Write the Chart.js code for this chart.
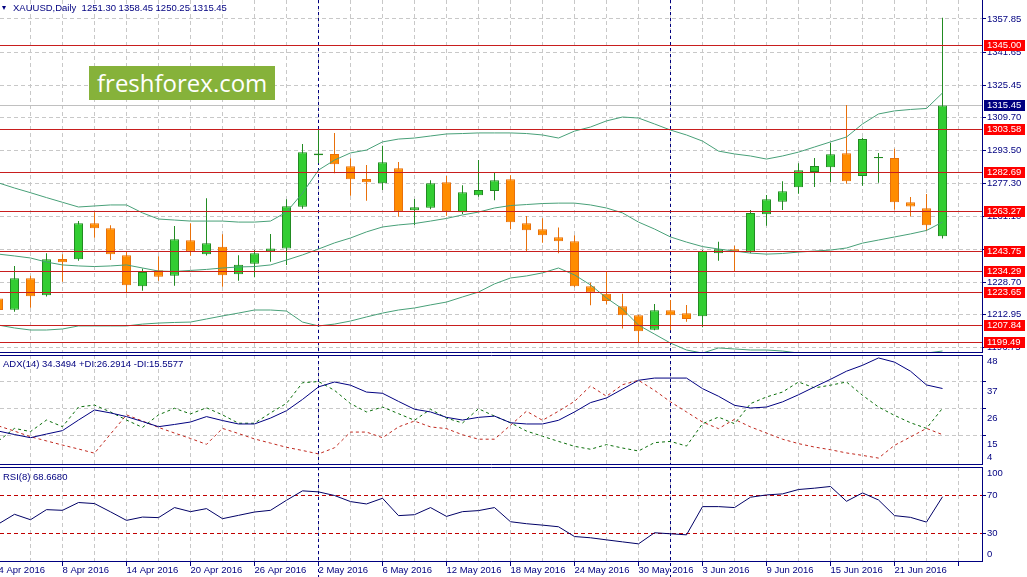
<!DOCTYPE html>
<html>
<head>
<meta charset="utf-8">
<title>XAUUSD, Daily</title>
<script src="https://cdn.jsdelivr.net/npm/chart.js@4.4.0/dist/chart.umd.min.js"></script>
<style>
  html, body { margin: 0; padding: 0; background: #fff; overflow: hidden; }
  #wrap { position: relative; width: 1027px; height: 577px; }
  canvas { position: absolute; left: 0; }
  .mt { position: absolute; font: 9.5px "Liberation Sans", Arial, sans-serif; color: #000080; white-space: pre; line-height: 1; }
  .tri { position: absolute; left: 2px; top: 6px; width: 0; height: 0;
         border-left: 2.5px solid transparent; border-right: 2.5px solid transparent; border-top: 4px solid #000080; }
  #logo { position: absolute; left: 89px; top: 66px; width: 186px; height: 34px; background: #86b23a;
          color: #fff; font: 24px "Open Sans", sans-serif; line-height: 34px; padding-left: 8px; box-sizing: border-box; }
</style>
</head>
<body>
<div id="wrap">
  <canvas id="priceChart" width="1027" height="353" style="top:0px"></canvas>
  <canvas id="adxChart" width="1027" height="110" style="top:355px"></canvas>
  <canvas id="rsiChart" width="1027" height="111" style="top:467px"></canvas>
  <div class="tri"></div>
  <div class="mt" style="left:13px;top:3px">XAUUSD,Daily  1251.30 1358.45 1250.25 1315.45</div>
  <div class="mt" style="left:3px;top:359px">ADX(14) 34.3494 +DI:26.2914 -DI:15.5577</div>
  <div class="mt" style="left:3px;top:472px">RSI(8) 68.6680</div>
  <div id="logo">freshforex.com</div>
</div>
<script>
// daily bars, 4 Apr - 24 Jun 2016
const dates = [
  '4 Apr', '5 Apr', '6 Apr', '7 Apr', '8 Apr', '11 Apr', '12 Apr', '13 Apr', '14 Apr', '15 Apr',
  '18 Apr', '19 Apr', '20 Apr', '21 Apr', '22 Apr', '25 Apr', '26 Apr', '27 Apr', '28 Apr', '29 Apr',
  '2 May', '3 May', '4 May', '5 May', '6 May', '9 May', '10 May', '11 May', '12 May', '13 May',
  '16 May', '17 May', '18 May', '19 May', '20 May', '23 May', '24 May', '25 May', '26 May', '27 May',
  '30 May', '31 May', '1 Jun', '2 Jun', '3 Jun', '6 Jun', '7 Jun', '8 Jun', '9 Jun', '10 Jun',
  '13 Jun', '14 Jun', '15 Jun', '16 Jun', '17 Jun', '20 Jun', '21 Jun', '22 Jun', '23 Jun', '24 Jun'
];

const openPrices = [
  1220.90, 1215.35, 1230.75, 1222.40, 1240.20, 1240.05, 1257.70, 1255.25, 1242.00, 1226.80,
  1234.70, 1232.00, 1249.35, 1242.50, 1246.20, 1232.70, 1237.90, 1244.00, 1245.40, 1265.85,
  1291.00, 1291.70, 1285.65, 1279.40, 1277.30, 1284.65, 1264.10, 1265.35, 1277.80, 1263.10,
  1271.40, 1273.50, 1279.30, 1257.70, 1254.75, 1250.85, 1248.90, 1226.80, 1223.20, 1217.00,
  1212.60, 1205.55, 1215.05, 1213.60, 1212.20, 1243.00, 1244.95, 1243.80, 1262.10, 1268.30,
  1275.35, 1282.85, 1285.15, 1292.00, 1280.90, 1289.60, 1289.70, 1268.00, 1265.05, 1251.30
];
const highPrices = [
  1223.40, 1236.75, 1232.00, 1243.00, 1242.50, 1258.80, 1263.10, 1256.70, 1244.10, 1235.60,
  1241.50, 1256.40, 1257.70, 1269.95, 1252.30, 1242.00, 1244.60, 1252.50, 1269.50, 1296.60,
  1303.45, 1302.00, 1289.60, 1286.30, 1295.70, 1287.75, 1269.60, 1278.80, 1280.90, 1276.30,
  1288.70, 1282.50, 1281.20, 1261.30, 1260.15, 1255.70, 1251.80, 1228.60, 1234.00, 1223.20,
  1212.90, 1218.15, 1220.10, 1217.70, 1244.60, 1248.70, 1246.70, 1264.20, 1271.60, 1278.30,
  1287.10, 1289.70, 1297.10, 1315.70, 1299.70, 1292.20, 1294.30, 1270.60, 1272.10, 1358.45
];
const lowPrices = [
  1212.50, 1214.40, 1216.30, 1221.80, 1229.10, 1239.40, 1250.65, 1239.70, 1223.40, 1224.70,
  1229.60, 1227.10, 1241.80, 1241.90, 1226.60, 1229.60, 1231.20, 1238.90, 1237.30, 1264.85,
  1287.10, 1282.20, 1271.20, 1268.80, 1274.00, 1260.95, 1256.90, 1264.60, 1261.40, 1262.30,
  1270.75, 1269.00, 1254.75, 1243.80, 1248.20, 1243.00, 1226.30, 1217.50, 1218.00, 1206.20,
  1199.40, 1205.25, 1205.25, 1209.50, 1206.70, 1239.40, 1234.30, 1243.00, 1256.50, 1264.20,
  1272.20, 1275.50, 1277.95, 1277.10, 1276.10, 1277.60, 1264.40, 1261.10, 1253.90, 1250.25
];
const closePrices = [
  1215.20, 1230.75, 1221.90, 1240.05, 1238.60, 1257.70, 1255.25, 1242.55, 1227.30, 1233.80,
  1231.50, 1249.85, 1243.80, 1247.90, 1232.20, 1237.40, 1243.00, 1245.40, 1266.05, 1292.50,
  1291.90, 1286.60, 1279.30, 1277.80, 1287.60, 1263.60, 1265.55, 1277.30, 1263.60, 1272.90,
  1274.00, 1278.80, 1258.20, 1254.30, 1251.80, 1248.90, 1226.80, 1223.70, 1219.60, 1212.60,
  1204.75, 1215.05, 1212.60, 1210.80, 1244.10, 1244.95, 1243.50, 1262.75, 1269.50, 1273.40,
  1283.70, 1285.80, 1291.50, 1278.30, 1299.00, 1290.20, 1268.00, 1266.00, 1256.70, 1315.45
];

// Bollinger bands
const bbUpper = [
  1277.5, 1275.0, 1272.7, 1270.3, 1268.0, 1265.7, 1266.2, 1266.7, 1266.7, 1262.8,
  1259.8, 1259.3, 1258.8, 1258.8, 1258.8, 1258.3, 1258.3, 1258.8, 1263.2, 1272.5,
  1283.8, 1288.7, 1292.2, 1293.6, 1297.6, 1299.0, 1299.5, 1300.5, 1301.5, 1301.7,
  1302.0, 1302.0, 1302.0, 1301.7, 1301.0, 1299.5, 1302.9, 1304.9, 1307.9, 1309.8,
  1309.3, 1306.4, 1303.4, 1301.0, 1298.0, 1293.1, 1291.7, 1290.7, 1289.2, 1290.7,
  1292.6, 1295.1, 1297.6, 1300.0, 1306.4, 1311.3, 1312.8, 1313.5, 1314.0, 1321.6
];
const bbMiddle = [
  1242.6, 1241.7, 1240.7, 1238.7, 1237.3, 1236.8, 1236.5, 1236.8, 1237.3, 1235.8,
  1234.3, 1234.1, 1234.6, 1235.1, 1235.8, 1236.3, 1236.5, 1237.3, 1239.7, 1242.2,
  1245.1, 1248.1, 1250.5, 1253.5, 1255.9, 1256.9, 1257.6, 1258.8, 1260.1, 1261.8,
  1263.2, 1265.2, 1266.4, 1266.9, 1267.4, 1267.6, 1267.6, 1266.7, 1265.2, 1262.8,
  1258.3, 1254.9, 1251.0, 1248.5, 1246.3, 1245.1, 1244.1, 1243.1, 1242.6, 1242.9,
  1243.6, 1244.1, 1244.6, 1245.6, 1248.0, 1249.5, 1251.0, 1252.5, 1254.2, 1258.3
];
const bbLower = [
  1207.8, 1206.4, 1205.4, 1205.4, 1205.9, 1207.4, 1207.4, 1207.4, 1207.4, 1208.3,
  1208.8, 1209.1, 1209.3, 1210.8, 1212.3, 1213.7, 1215.2, 1215.2, 1214.7, 1209.3,
  1207.4, 1208.3, 1209.8, 1211.8, 1213.7, 1215.2, 1216.2, 1217.7, 1219.1, 1221.6,
  1224.0, 1228.0, 1230.9, 1231.9, 1233.4, 1235.8, 1232.4, 1227.5, 1221.1, 1215.7,
  1207.8, 1203.4, 1199.0, 1195.6, 1194.1, 1196.6, 1196.1, 1195.6, 1195.6, 1195.1,
  1194.1, 1193.1, 1191.6, 1190.7, 1189.7, 1187.7, 1189.2, 1191.1, 1194.1, 1195.1
];

// ADX(14)
const adxLine = [
  17.0, 15.6, 14.3, 15.8, 17.2, 21.5, 25.6, 24.4, 22.9, 20.9,
  18.8, 19.7, 20.7, 22.9, 21.3, 19.9, 19.9, 22.3, 25.3, 29.9,
  35.0, 37.0, 35.7, 32.9, 32.4, 29.1, 25.9, 24.8, 22.6, 21.5,
  22.6, 23.1, 20.4, 19.9, 19.9, 21.4, 24.8, 28.6, 30.5, 34.1,
  37.7, 38.6, 38.6, 38.6, 34.3, 31.2, 27.5, 26.4, 26.8, 28.9,
  31.8, 35.0, 38.1, 41.4, 43.8, 46.8, 45.1, 41.4, 35.8, 34.35
];
const plusDI = [
  13.0, 18.1, 16.8, 21.5, 18.8, 26.8, 27.6, 24.8, 21.5, 18.5,
  23.6, 26.3, 24.0, 26.5, 23.6, 20.2, 20.2, 24.4, 28.3, 36.7,
  37.2, 33.6, 28.2, 24.8, 26.8, 24.1, 21.4, 25.9, 22.3, 20.3,
  26.1, 23.1, 20.4, 17.0, 14.9, 12.8, 10.8, 9.6, 11.5, 10.1,
  8.9, 12.3, 12.8, 10.9, 20.0, 22.7, 20.0, 28.2, 30.9, 32.9,
  37.0, 34.6, 35.7, 37.0, 31.6, 26.8, 23.4, 20.4, 18.1, 26.29
];
const minusDI = [
  19.1, 17.0, 14.7, 13.0, 11.3, 9.7, 8.0, 15.8, 23.6, 21.1,
  18.5, 16.2, 14.0, 11.6, 18.1, 16.0, 13.8, 12.1, 10.4, 9.1,
  7.7, 10.2, 16.6, 16.6, 14.3, 18.7, 21.1, 18.7, 18.0, 15.5,
  13.7, 13.7, 19.4, 25.1, 21.4, 25.1, 29.1, 35.4, 31.2, 35.9,
  37.7, 33.6, 28.9, 24.8, 20.7, 18.0, 21.8, 18.7, 16.2, 13.7,
  11.9, 10.5, 9.4, 8.1, 7.1, 6.0, 11.2, 14.6, 18.1, 15.56
];

// RSI(8)
const rsiLine = [
  40.1, 50.2, 44.5, 55.1, 54.4, 62.6, 61.5, 52.8, 43.8, 47.3,
  46.7, 57.3, 53.0, 56.2, 45.6, 49.1, 52.6, 54.4, 65.0, 74.9,
  73.8, 70.0, 63.6, 61.1, 67.1, 48.8, 49.8, 57.3, 48.0, 53.0,
  54.1, 57.3, 42.4, 40.3, 38.8, 37.1, 26.8, 25.5, 23.3, 21.2,
  19.1, 30.8, 29.7, 28.6, 58.3, 58.3, 57.3, 68.2, 70.6, 71.7,
  76.3, 77.7, 79.5, 63.9, 72.7, 65.3, 48.8, 47.0, 42.0, 68.67
];

const priceTicks = [1357.85, 1341.65, 1325.45, 1309.70, 1293.50, 1277.30, 1261.10, 1244.90, 1228.70, 1212.95, 1196.75];
const levelLines = [1345.00, 1303.58, 1282.69, 1263.27, 1243.75, 1234.29, 1223.65, 1207.84, 1199.49];
const bidPrice = 1315.45;
const adxTicks = [48, 37, 26, 15, 4];
const adxGrid = [37, 26, 15];
const rsiTicks = [100, 70, 30, 0];
const rsiLevels = [70, 30];

const NAVY = '#000080';
const GRID = '#c8c8c8';
const FONT = '"Liberation Sans", Arial, sans-serif';
Chart.defaults.font.family = FONT;
Chart.defaults.font.size = 9.5;

const idx = dates.map((d, i) => i);
const xMin = 0.09375, xMax = 61.46875;
const gridSteps = [];
for (let i = 0; i <= 60; i += 2) gridSteps.push(i);
const monthStarts = idx.filter(i => i > 0 && dates[i].split(' ')[1] !== dates[i - 1].split(' ')[1]);

function xAxis(showLabels) {
    return {
        type: 'linear', min: xMin, max: xMax, offset: false,
        afterBuildTicks: s => { s.ticks = gridSteps.map(v => ({ value: v })); },
        afterFit: s => { s.height = showLabels ? 16 : 0; s.paddingLeft = 0; s.paddingRight = 0; },
        grid: {
            offset: false, color: GRID, drawTicks: showLabels, tickLength: 4,
            tickColor: c => (c.tick && c.tick.value % 4 === 0) ? NAVY : 'rgba(0,0,0,0)'
        },
        border: { display: false, dash: [4, 3] },
        ticks: {
            display: showLabels, autoSkip: false, maxRotation: 0, minRotation: 0, align: 'start',
            padding: 0, color: NAVY, font: { size: 9.5, lineHeight: 1 },
            callback: v => (v % 4 === 0 && dates[v]) ? dates[v] + ' 2016' : ''
        }
    };
}

function yAxis(min, max, ticks, opts) {
    return {
        position: 'right', min: min, max: max,
        afterBuildTicks: s => { s.ticks = ticks.map(v => ({ value: v })); },
        afterFit: s => { s.width = 45; s.paddingTop = 0; s.paddingBottom = 0; },
        grid: { color: opts.gridColor || GRID, tickLength: 4, tickColor: NAVY },
        border: { display: false, dash: opts.dash || [4, 3] },
        ticks: { display: !!opts.labels, color: NAVY, padding: 1, callback: v => v.toFixed(2) }
    };
}

// navy frame round each panel
const frame = {
    id: 'frame',
    afterDraw(chart) {
        const { ctx, chartArea: a } = chart;
        ctx.save();
        ctx.strokeStyle = NAVY;
        ctx.lineWidth = 1;
        ctx.beginPath();
        if (chart.canvas.id !== 'priceChart') {
            ctx.moveTo(0, a.top + 0.5); ctx.lineTo(a.right + 1, a.top + 0.5);
        }
        ctx.moveTo(0, a.bottom - 0.5); ctx.lineTo(a.right + 1, a.bottom - 0.5);
        ctx.moveTo(a.right + 0.5, a.top); ctx.lineTo(a.right + 0.5, a.bottom);
        ctx.stroke();
        ctx.restore();
    }
};

// dashed period separators at the start of each month
const separators = {
    id: 'separators',
    beforeDatasetsDraw(chart) {
        const { ctx, chartArea: a, scales: { x } } = chart;
        ctx.save();
        ctx.strokeStyle = NAVY;
        ctx.lineWidth = 1;
        ctx.setLineDash([3, 3]);
        monthStarts.forEach(i => {
            const px = Math.floor(x.getPixelForValue(i)) + 0.5;
            ctx.beginPath();
            ctx.moveTo(px, a.top);
            ctx.lineTo(px, chart.height);
            ctx.stroke();
        });
        ctx.restore();
    }
};

function sideText(values, shifts) {
    return {
        id: 'sideText',
        afterDraw(chart) {
            const { ctx, chartArea: a, scales: { y } } = chart;
            ctx.save();
            ctx.font = '9.5px ' + FONT;
            ctx.fillStyle = NAVY;
            ctx.textAlign = 'left';
            ctx.textBaseline = 'middle';
            values.forEach((v, k) => ctx.fillText(String(v), a.right + 5, y.getPixelForValue(v) + shifts[k]));
            ctx.restore();
        }
    };
}

const priceLevels = {
    id: 'priceLevels',
    beforeDatasetsDraw(chart) {
        const { ctx, chartArea: a, scales: { y } } = chart;
        const py = Math.floor(y.getPixelForValue(bidPrice)) + 0.5;
        ctx.save();
        ctx.strokeStyle = '#c0c0c0';
        ctx.lineWidth = 1;
        ctx.beginPath(); ctx.moveTo(a.left, py); ctx.lineTo(a.right, py); ctx.stroke();
        ctx.restore();
    },
    afterDatasetsDraw(chart) {
        const { ctx, chartArea: a, scales: { y } } = chart;
        ctx.save();
        ctx.strokeStyle = '#c81e1e';
        ctx.lineWidth = 1;
        levelLines.forEach(v => {
            const py = Math.floor(y.getPixelForValue(v)) + 0.5;
            ctx.beginPath(); ctx.moveTo(a.left, py); ctx.lineTo(a.right, py); ctx.stroke();
        });
        ctx.restore();
    },
    afterDraw(chart) {
        const { ctx, chartArea: a, scales: { y } } = chart;
        ctx.save();
        ctx.font = '9.5px ' + FONT;
        ctx.textAlign = 'left';
        ctx.textBaseline = 'middle';
        const tag = (v, bg) => {
            const py = Math.floor(y.getPixelForValue(v));
            ctx.fillStyle = bg;
            ctx.fillRect(a.right + 2, py - 5, 41, 11);
            ctx.fillStyle = '#ffffff';
            ctx.fillText(v.toFixed(2), a.right + 5, py + 0.5);
        };
        levelLines.forEach(v => tag(v, '#ff0000'));
        tag(bidPrice, NAVY);
        ctx.restore();
    }
};

const bull = idx.map(i => closePrices[i] >= openPrices[i]);
const edgeColors = bull.map(b => b ? '#228b22' : '#e8700a');
const fillColors = bull.map(b => b ? '#32cd32' : '#ff8c00');

const baseOptions = {
    responsive: false,
    animation: false,
    events: [],
    layout: { padding: 0 },
    plugins: { legend: { display: false }, tooltip: { enabled: false } }
};

function bandSet(label, values) {
    return {
        type: 'line', label: label, order: 0,
        data: idx.map(i => ({ x: i, y: values[i] })),
        borderColor: '#48a078', borderWidth: 1, pointRadius: 0, tension: 0
    };
}

new Chart(document.getElementById('priceChart'), {
    type: 'bar',
    data: {
        datasets: [
            {
                label: 'wick', order: 2, grouped: false, barThickness: 1, inflateAmount: 0,
                data: idx.map(i => ({ x: i, y: [lowPrices[i], highPrices[i]] })),
                backgroundColor: edgeColors, borderWidth: 0
            },
            {
                label: 'body', order: 1, grouped: false, barThickness: 9, inflateAmount: 0,
                data: idx.map(i => ({ x: i, y: [openPrices[i], closePrices[i]] })),
                backgroundColor: fillColors, borderColor: edgeColors, borderWidth: 1, borderSkipped: false
            },
            bandSet('BB upper', bbUpper),
            bandSet('BB middle', bbMiddle),
            bandSet('BB lower', bbLower)
        ]
    },
    options: Object.assign({}, baseOptions, {
        scales: {
            x: xAxis(false),
            y: yAxis(1194.13, 1367.16, priceTicks, { labels: true })
        }
    }),
    plugins: [separators, priceLevels, frame]
});

new Chart(document.getElementById('adxChart'), {
    type: 'line',
    data: {
        datasets: [
            { label: 'ADX', data: idx.map(i => ({ x: i, y: adxLine[i] })), borderColor: NAVY, borderWidth: 1, pointRadius: 0 },
            { label: '+DI', data: idx.map(i => ({ x: i, y: plusDI[i] })), borderColor: '#0a6e0a', borderWidth: 1, borderDash: [3, 3], pointRadius: 0 },
            { label: '-DI', data: idx.map(i => ({ x: i, y: minusDI[i] })), borderColor: '#c0281e', borderWidth: 1, borderDash: [3, 3], pointRadius: 0 }
        ]
    },
    options: Object.assign({}, baseOptions, {
        scales: {
            x: xAxis(false),
            y: yAxis(3.185, 48, adxGrid, {})
        }
    }),
    plugins: [separators, frame, sideText(adxTicks, [6, 9, 9, 8, -6])]
});

new Chart(document.getElementById('rsiChart'), {
    type: 'line',
    data: {
        datasets: [
            { label: 'RSI', data: idx.map(i => ({ x: i, y: rsiLine[i] })), borderColor: '#000066', borderWidth: 1, pointRadius: 0 }
        ]
    },
    options: Object.assign({}, baseOptions, {
        scales: {
            x: xAxis(true),
            y: yAxis(0, 100, rsiLevels, { gridColor: '#c00000', dash: [4, 3] })
        }
    }),
    plugins: [separators, frame, sideText(rsiTicks, [6, 0, 0, -8])]
});
</script>
</body>
</html>
